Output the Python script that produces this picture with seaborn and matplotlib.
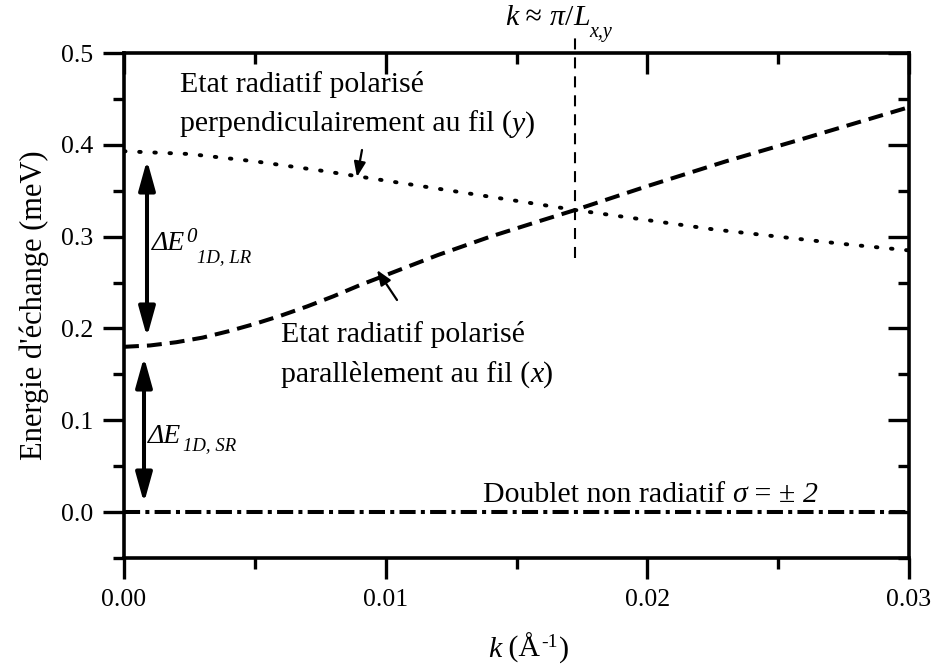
import numpy as np
import pandas as pd
import matplotlib
matplotlib.use("Agg")
import matplotlib.pyplot as plt
from matplotlib.ticker import MultipleLocator, FormatStrFormatter
from matplotlib.patches import ArrowStyle
import seaborn as sns

# ---- data ----
k_perp = [0.0, 0.0025, 0.005, 0.0075, 0.010, 0.0125, 0.015, 0.01724, 0.020, 0.0225, 0.025, 0.0275, 0.030]
e_perp = [0.393, 0.390, 0.382, 0.372, 0.361, 0.350, 0.339, 0.329, 0.318, 0.308, 0.300, 0.292, 0.285]

k_par = [0.0, 0.001, 0.002, 0.003, 0.004, 0.005, 0.006, 0.007, 0.008, 0.009, 0.010,
         0.011, 0.012, 0.014, 0.016, 0.01724, 0.020, 0.023, 0.026, 0.030]
e_par = [0.180, 0.1815, 0.185, 0.190, 0.197, 0.205, 0.214, 0.224, 0.235, 0.247, 0.258,
         0.269, 0.280, 0.300, 0.318, 0.329, 0.355, 0.382, 0.407, 0.441]

k_dark = [0.0, 0.030]
e_dark = [0.0, 0.0]

k_cross = 0.01724
cross_span = [0.277, 0.52]

x_ticks = [0.00, 0.01, 0.02, 0.03]
y_ticks = [0.0, 0.1, 0.2, 0.3, 0.4, 0.5]

# ---- style ----
sns.set_theme(style="ticks")
plt.rcParams["font.family"] = ["Liberation Serif", "DejaVu Serif"]
for key in ["text.color", "axes.labelcolor", "xtick.color", "ytick.color", "axes.edgecolor"]:
    plt.rcParams[key] = "black"
FS_TICK = 18.5
FS = 21.5
FS_SUB = 13.5

W, H = 931, 668
fig = plt.figure(figsize=(W / 100, H / 100), dpi=100)
L, R, T, B = 124, 909, 53, 558
ax = fig.add_axes([L / W, (H - B) / H, (R - L) / W, (B - T) / H])

df_perp = pd.DataFrame({"k": k_perp, "E": e_perp})
df_par = pd.DataFrame({"k": k_par, "E": e_par})
df_dark = pd.DataFrame({"k": k_dark, "E": e_dark})

sns.lineplot(data=df_perp, x="k", y="E", ax=ax, color="black", lw=2.8,
             linestyle=(0, (0.4, 3.5)), dash_capstyle="round", estimator=None, sort=False)
sns.lineplot(data=df_par, x="k", y="E", ax=ax, color="black", lw=2.9,
             linestyle=(0, (3.7, 2.0)), estimator=None, sort=False)
sns.lineplot(data=df_dark, x="k", y="E", ax=ax, color="black", lw=2.9,
             linestyle=(0, (4.0, 1.3, 1.0, 1.3)), estimator=None, sort=False)
ax.plot([k_cross, k_cross], cross_span, color="black", lw=1.5,
        linestyle=(0, (5.3, 3.8)), clip_on=False)

ax.set_xlim(0, 0.03)
ax.set_ylim(-0.05, 0.5)
ax.set_xticks(x_ticks)
ax.set_yticks(y_ticks)
ax.xaxis.set_minor_locator(MultipleLocator(0.005))
ax.yaxis.set_minor_locator(MultipleLocator(0.05))
ax.xaxis.set_major_formatter(FormatStrFormatter("%.2f"))
ax.yaxis.set_major_formatter(FormatStrFormatter("%.1f"))
for s in ax.spines.values():
    s.set_visible(True)
    s.set_linewidth(2.6)
    s.set_color("black")
ax.tick_params(axis="x", which="both", bottom=True, top=False, direction="out")
ax.tick_params(axis="y", which="both", left=True, right=False, direction="out")
ax.tick_params(which="major", length=15, width=2.4, labelsize=FS_TICK, pad=7)
ax.tick_params(which="minor", length=8, width=2.4)

# top and right inward ticks
axr = ax.twinx()
axr.set_ylim(ax.get_ylim())
axr.set_yticks(y_ticks)
axr.yaxis.set_minor_locator(MultipleLocator(0.05))
axr.tick_params(axis="y", which="both", right=True, left=False, labelright=False, direction="in")
axr.tick_params(axis="y", which="major", length=15, width=2.4)
axr.tick_params(axis="y", which="minor", length=8, width=2.4)
axt = ax.twiny()
axt.set_xlim(ax.get_xlim())
axt.set_xticks(x_ticks)
axt.xaxis.set_minor_locator(MultipleLocator(0.005))
axt.tick_params(axis="x", which="both", top=True, bottom=False, labeltop=False, direction="in")
axt.tick_params(axis="x", which="major", length=15, width=2.4)
axt.tick_params(axis="x", which="minor", length=8, width=2.4)
for a in (axr, axt):
    for s in a.spines.values():
        s.set_visible(False)
    a.grid(False)

ax.set_xlabel("")
ax.set_ylabel("Energie d'échange (meV)", fontsize=22, labelpad=9)

fig.canvas.draw()
renderer = fig.canvas.get_renderer()


def seg_text(x, y, segs, align="left"):
    """Place text segments in figure pixels (top-left origin), baseline at y."""
    objs = []
    for (s, size, style, dy) in segs:
        t = fig.text(0, 0, s, fontsize=size, fontstyle=style, va="baseline", ha="left",
                     color="black")
        objs.append((t, dy))
    widths = [t.get_window_extent(renderer).width for t, _ in objs]
    total = sum(widths)
    cx = x - total if align == "right" else x
    for (t, dy), w in zip(objs, widths):
        t.set_position((cx / W, 1 - (y - dy) / H))
        cx += w
    return cx


seg_text(180, 92, [("Etat radiatif polarisé", FS, "normal", 0)])
seg_text(180, 132, [("perpendiculairement au fil (", FS, "normal", 0),
                    ("y", FS, "italic", 0), (")", FS, "normal", 0)])
seg_text(281, 342, [("Etat radiatif polarisé", FS, "normal", 0)])
seg_text(281, 382, [("parallèlement au fil (", FS, "normal", 0),
                    ("x", FS, "italic", 0), (")", FS, "normal", 0)])
seg_text(818, 502, [("Doublet non radiatif ", FS, "normal", 0), ("σ", FS, "italic", 0),
                    (" = ± ", FS, "normal", 0), ("2", FS, "italic", 0)], align="right")

# Delta E labels (superscript / subscript stacked)
xe = seg_text(152, 250, [("ΔE", 20, "italic", 0)])
seg_text(xe + 1, 250, [("0", 15, "italic", 8)])
seg_text(xe + 12, 250, [("1D, LR", FS_SUB, "italic", -12)])
xe = seg_text(148, 443, [("ΔE", 20, "italic", 0)])
seg_text(xe + 2, 443, [("1D, SR", FS_SUB, "italic", -7)])

# k ~ pi / L label on top
xe = seg_text(505, 25, [("k", FS, "italic", 0), (" ≈ ", FS, "normal", 0), ("π", FS, "italic", 0),
                        ("/", FS, "normal", 0), ("L", FS, "italic", 0)])
seg_text(xe, 25, [("x,y", 14.5, "italic", -12)])

# x axis label
xe = seg_text(488, 657, [("k", FS, "italic", 0), (" (Å", FS, "normal", 0)])
xe = seg_text(xe + 1, 657, [("-1", 14, "normal", 10)])
seg_text(xe + 1, 657, [(")", FS, "normal", 0)])


def px2data(x, y):
    return (x - L) / (R - L) * 0.03, 0.5 - (y - T) / (B - T) * 0.55


# double arrows
dbl = ArrowStyle("<|-|>", head_length=1.8, head_width=0.5)
for (x0, y0, y1) in [(147, 160, 337), (144, 357, 503)]:
    ax.annotate("", xy=px2data(x0, y1), xytext=px2data(x0, y0),
                arrowprops=dict(arrowstyle=dbl, lw=2.9, color="black",
                                mutation_scale=10, shrinkA=0, shrinkB=0))

sgl = ArrowStyle("-|>", head_length=0.9, head_width=0.35)
for (xt, yt, xh, yh) in [(362, 150, 357, 177), (397, 300, 377, 270)]:
    ax.annotate("", xy=px2data(xh, yh), xytext=px2data(xt, yt),
                arrowprops=dict(arrowstyle=sgl, lw=1.6, color="black",
                                mutation_scale=10, shrinkA=0, shrinkB=0))

fig.savefig("out.png", dpi=100)
